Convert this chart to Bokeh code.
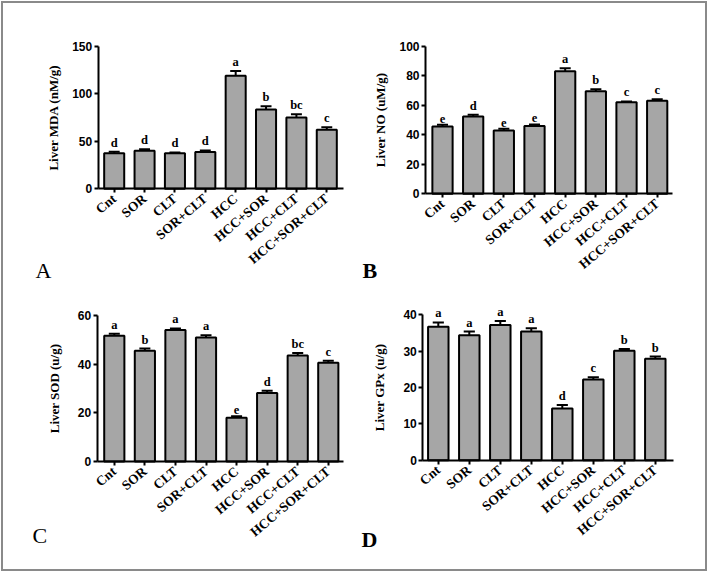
from bokeh.plotting import figure
from bokeh.models import Range1d, FixedTicker, ColumnDataSource, LabelSet, Label, InlineStyleSheet
from bokeh.layouts import gridplot
from bokeh.embed import file_html
from bokeh.resources import INLINE

categories = ["Cnt", "SOR", "CLT", "SOR+CLT", "HCC", "HCC+SOR", "HCC+CLT", "HCC+SOR+CLT"]

mda_mean = [37.5, 40.0, 37.3, 38.8, 119.0, 83.3, 75.0, 62.0]
mda_err = [1.5, 1.5, 1.0, 1.5, 5.0, 3.5, 3.5, 2.8]
mda_sig = ["d", "d", "d", "d", "a", "b", "bc", "c"]
mda_ticks = [0, 50, 100, 150]

no_mean = [45.6, 52.3, 42.9, 46.0, 83.0, 69.5, 62.0, 63.0]
no_err = [1.2, 1.3, 1.2, 1.0, 2.0, 1.3, 0.6, 1.0]
no_sig = ["e", "d", "e", "e", "a", "b", "c", "c"]
no_ticks = [0, 20, 40, 60, 80, 100]

sod_mean = [51.7, 45.5, 54.0, 51.0, 18.0, 28.1, 43.6, 40.6]
sod_err = [0.8, 0.9, 0.7, 0.9, 0.6, 1.0, 1.0, 0.8]
sod_sig = ["a", "b", "a", "a", "e", "d", "bc", "c"]
sod_ticks = [0, 20, 40, 60]

gpx_mean = [36.7, 34.4, 37.2, 35.4, 14.2, 22.2, 30.1, 27.9]
gpx_err = [1.2, 1.0, 1.1, 0.9, 1.0, 0.6, 0.5, 0.6]
gpx_sig = ["a", "a", "a", "a", "d", "c", "b", "b"]
gpx_ticks = [0, 10, 20, 30, 40]

SERIF = "Liberation Serif"
SANS = "Liberation Sans"
BAR_FILL = "#a6a6a6"
FIG_W, FIG_H = 351, 283


def panel(mean, err, sig, ticks, ylabel, letter, letter_bold, g, label_standoff):
    # g: layout geometry in page pixels
    ox, oy = g["origin"]
    c0, sp = g["c0"], g["sp"]
    y0, yt, ymax = g["y0"], g["yt"], max(ticks)

    def dx(px):
        return (px - c0) / sp

    def dy(py):
        return (y0 - py) * ymax / (y0 - yt)

    p = figure(width=FIG_W, height=FIG_H, output_backend="svg", toolbar_location=None,
               x_range=Range1d(dx(ox), dx(ox + FIG_W)),
               y_range=Range1d(dy(oy + FIG_H), dy(oy)),
               min_border=0, min_border_left=0, min_border_right=0,
               min_border_top=0, min_border_bottom=0,
               background_fill_color="white", border_fill_color="white")
    p.outline_line_color = None
    p.xgrid.visible = False
    p.ygrid.visible = False

    x = list(range(len(categories)))
    tops = [m + e for m, e in zip(mean, err)]
    src = ColumnDataSource(dict(x=x, mean=mean, top=tops, sig=sig,
                                cl=[i - 0.18 for i in x], cr=[i + 0.18 for i in x]))
    p.vbar(x="x", top="mean", bottom=0, width=0.66, source=src,
           fill_color=BAR_FILL, line_color="black", line_width=2)
    p.segment(x0="x", y0="mean", x1="x", y1="top", source=src,
              line_color="black", line_width=2)
    p.segment(x0="cl", y0="top", x1="cr", y1="top", source=src,
              line_color="black", line_width=2)
    p.add_layout(LabelSet(x="x", y="top", text="sig", source=src, y_offset=2,
                          text_align="center", text_baseline="bottom",
                          text_font=SERIF, text_font_style="bold",
                          text_font_size="12.5px", text_color="black"))

    # axes fixed at the data origin, limited by bounds
    xa0, xa1 = dx(g["axl"]), dx(g["axr"])
    p.xaxis.fixed_location = 0
    p.xaxis.bounds = (xa0, xa1)
    p.yaxis.fixed_location = xa0
    p.yaxis.bounds = (0, ymax)

    p.xaxis.ticker = FixedTicker(ticks=x)
    p.xaxis.major_label_overrides = {i: c for i, c in enumerate(categories)}
    p.xaxis.major_label_orientation = 0.70
    p.xaxis.major_label_text_font = SERIF
    p.xaxis.major_label_text_font_style = "bold"
    p.xaxis.major_label_text_font_size = "13.5px"
    p.xaxis.major_label_standoff = 4
    p.xaxis.major_tick_in = 0
    p.xaxis.major_tick_out = 4
    p.xaxis.minor_tick_line_color = None

    p.yaxis.ticker = FixedTicker(ticks=ticks)
    p.yaxis.major_label_text_font = SANS
    p.yaxis.major_label_text_font_style = "bold"
    p.yaxis.major_label_text_font_size = "12px"
    p.yaxis.major_label_standoff = 2
    p.yaxis.major_tick_in = 0
    p.yaxis.major_tick_out = 4
    p.yaxis.minor_tick_line_color = None
    p.yaxis.axis_label = ylabel
    p.yaxis.axis_label_text_font = SERIF
    p.yaxis.axis_label_text_font_style = "bold"
    p.yaxis.axis_label_text_font_size = "13px"
    p.yaxis.axis_label_standoff = label_standoff

    for ax in (p.xaxis, p.yaxis):
        ax.axis_line_width = 2
        ax.major_tick_line_width = 2
        ax.axis_line_color = "black"
        ax.major_tick_line_color = "black"
        ax.major_label_text_color = "black"
        ax.axis_label_text_color = "black"

    lx, ly = g["letter"]
    p.add_layout(Label(x=dx(lx), y=dy(ly), text=letter, text_font=SERIF,
                       text_font_style="bold" if letter_bold else "normal",
                       text_font_size="22px", text_color="black",
                       text_align="left", text_baseline="middle"))
    return p


geomA = dict(origin=(3, 3), c0=113.7, sp=30.37, axl=97.7, axr=343.0,
             y0=188.3, yt=45.7, letter=(35, 270))
geomB = dict(origin=(354, 3), c0=442.0, sp=30.67, axl=425.0, axr=671.7,
             y0=193.3, yt=45.7, letter=(362, 269.5))
geomC = dict(origin=(3, 286), c0=113.8, sp=30.57, axl=96.7, axr=343.3,
             y0=461.0, yt=315.0, letter=(32, 535))
geomD = dict(origin=(354, 286), c0=437.8, sp=31.0, axl=422.3, axr=673.0,
             y0=459.7, yt=314.3, letter=(361, 538.5))

pA = panel(mda_mean, mda_err, mda_sig, mda_ticks, "Liver MDA (nM/g)", "A", False, geomA, 8)
pB = panel(no_mean, no_err, no_sig, no_ticks, "Liver NO (uM/g)", "B", True, geomB, 8)
pC = panel(sod_mean, sod_err, sod_sig, sod_ticks, "Liver SOD (u/g)", "C", False, geomC, 13)
pD = panel(gpx_mean, gpx_err, gpx_sig, gpx_ticks, "Liver GPx (u/g)", "D", True, geomD, 13)

grid = gridplot([[pA, pB], [pC, pD]], toolbar_location=None)
grid.stylesheets = [InlineStyleSheet(
    css=":host { margin: 1px !important; border: 2px solid #8a8a8a; }")]

open("out.html", "w").write(file_html(grid, INLINE))
